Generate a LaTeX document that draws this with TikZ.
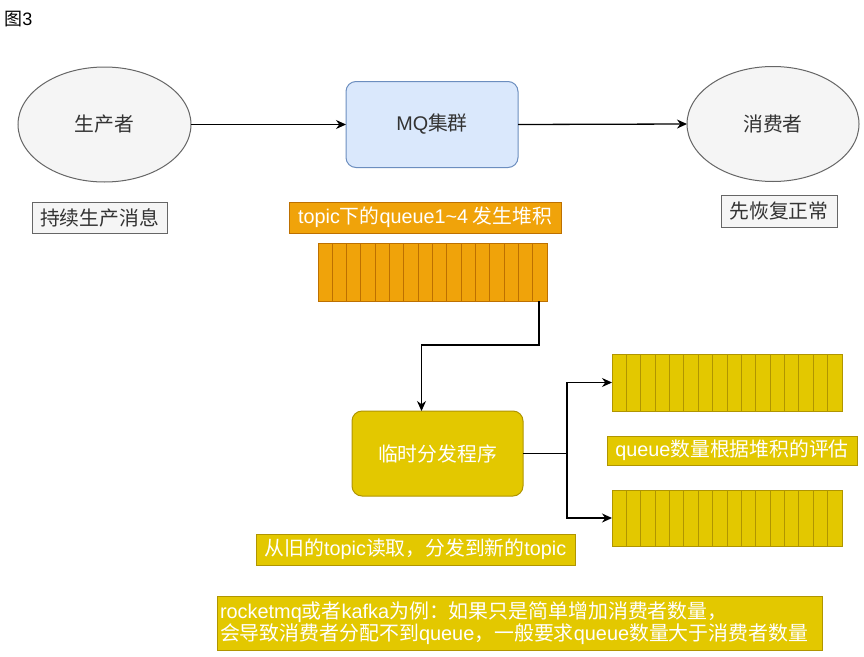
\documentclass[tikz,border=0pt]{standalone}
\usepackage{fontspec}
\setmainfont{Noto Sans CJK SC}
\newfontfamily\lat{Liberation Sans}
\usetikzlibrary{shapes.geometric,arrows.meta,calc}
\definecolor{gfill}{HTML}{F5F5F5}
\definecolor{gline}{HTML}{666666}
\definecolor{gtext}{HTML}{333333}
\definecolor{bfill}{HTML}{DAE8FC}
\definecolor{bline}{HTML}{6C8EBF}
\definecolor{ofill}{HTML}{F0A30A}
\definecolor{oline}{HTML}{BD7000}
\definecolor{yfill}{HTML}{E3C800}
\definecolor{yline}{HTML}{B09500}
\tikzset{
  base/.style={inner sep=0pt, outer sep=0pt, line width=1pt, align=center, font=\fontsize{19.8}{23}\selectfont},
  ell/.style={base, ellipse, draw=gline, fill=gfill, text=gtext, minimum width=173pt, minimum height=115pt},
  gbox/.style={base, rectangle, draw=gline, fill=gfill, text=gtext},
  mqbox/.style={base, rectangle, rounded corners=10pt, draw=bline, fill=bfill, text=gtext},
  obox/.style={base, rectangle, draw=oline, fill=ofill, text=white},
  ybox/.style={base, rectangle, draw=yline, fill=yfill, text=white},
  oqueue/.style={base, rectangle, draw=oline, fill=ofill},
  yqueue/.style={base, rectangle, draw=yline, fill=yfill},
  arr/.style={draw=black, line width=1.3pt, -{Stealth[length=10pt,width=9pt]}},
  plain/.style={draw=black, line width=1.3pt},
}
\begin{document}
\begin{tikzpicture}[x=1pt,y=-1pt]
\useasboundingbox (0,0) rectangle (864,656);
\fill[white] (0,0) rectangle (864,656);

\node[font=\fontsize{18}{20}\selectfont, text=black, inner sep=0pt] (title) at (18.5,19) {图{\lat 3}};

\node[ell] (prod) at (104.5,124.5) {生产者};
\node[gbox, minimum width=135pt, minimum height=31pt] (l1) at (99.5,217.5) {持续生产消息};

\node[mqbox, minimum width=172pt, minimum height=86pt] (mq) at (432,124.5) {{\lat MQ}集群};

\node[ell, minimum width=172pt] (cons) at (773,124) {消费者};
\node[gbox, minimum width=116pt, minimum height=32pt] (l2) at (779,211) {先恢复正常};

\node[obox, minimum width=272pt, minimum height=31pt] (l3) at (425,217.5) {{\lat topic}下的{\lat queue1\textasciitilde4} 发生堆积};
\node[oqueue, minimum width=229pt, minimum height=58pt] (q1) at (432.5,272) {};
\foreach \i in {1,...,15}
  \draw[oline, line width=1pt] ($(q1.north west)!\i/16!(q1.north east)$) -- ($(q1.south west)!\i/16!(q1.south east)$);

\node[ybox, rounded corners=10pt, minimum width=171pt, minimum height=85pt] (disp) at (437.5,453.5) {临时分发程序};

\node[yqueue, minimum width=230pt, minimum height=57pt] (q2) at (727,382.5) {};
\foreach \i in {1,...,15}
  \draw[yline, line width=1pt] ($(q2.north west)!\i/16!(q2.north east)$) -- ($(q2.south west)!\i/16!(q2.south east)$);

\node[ybox, minimum width=250pt, minimum height=29pt] (l4) at (732,450.5) {{\lat queue}数量根据堆积的评估};

\node[yqueue, minimum width=230pt, minimum height=56pt] (q3) at (727,518) {};
\foreach \i in {1,...,15}
  \draw[yline, line width=1pt] ($(q3.north west)!\i/16!(q3.north east)$) -- ($(q3.south west)!\i/16!(q3.south east)$);

\node[ybox, minimum width=319pt, minimum height=31pt] (l5) at (415.5,549.5) {从旧的{\lat topic}读取，分发到新的{\lat topic}};

\node[ybox, minimum width=605pt, minimum height=54pt, align=left, text width=599pt, font=\fontsize{19.9}{21.5}\selectfont] (l6) at (519.5,623)
  {{\lat rocketmq}或者{\lat kafka}为例：如果只是简单增加消费者数量，\\会导致消费者分配不到{\lat queue}，一般要求{\lat queue}数量大于消费者数量};

% connectors
\draw[arr] (prod.east) -- (mq.west);
\draw[arr] (mq.east) -- (cons.west);
\coordinate (qout) at ($(q1.south east)+(-8,0)$);
\coordinate (din) at ($(disp.north)+(-16,0)$);
\draw[arr] (qout) -- ++(0,44) -| (din);
\coordinate (split) at ($(disp.east)+(44,0)$);
\draw[plain] (disp.east) -- (split);
\draw[arr] (split) |- (q2.west);
\draw[arr] (split) |- (q3.west);
\end{tikzpicture}
\end{document}
